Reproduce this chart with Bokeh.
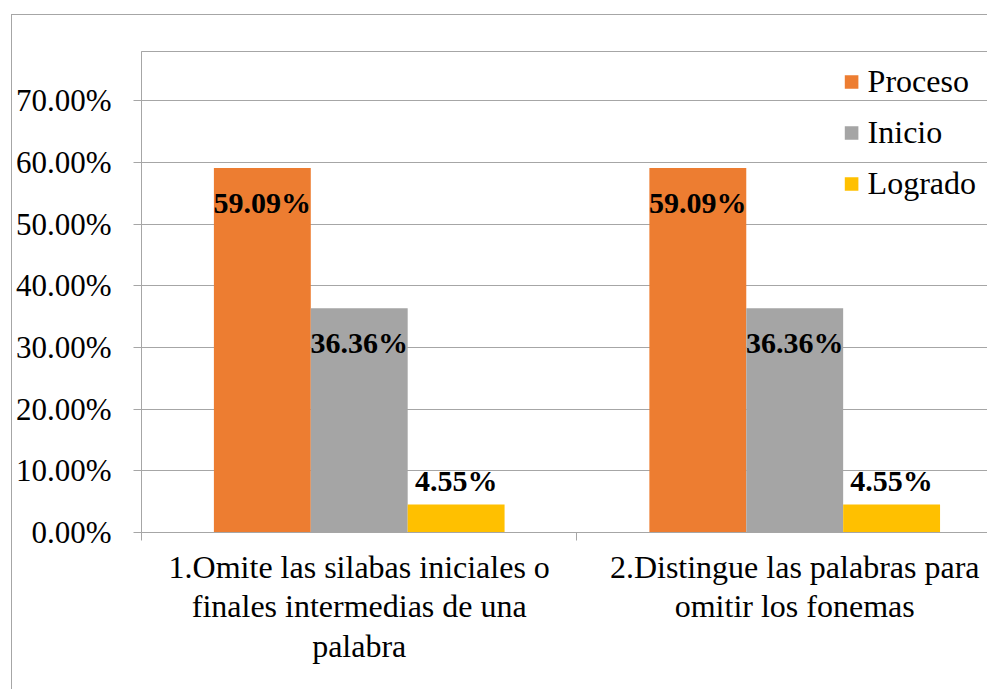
from bokeh.plotting import figure
from bokeh.models import (Range1d, FixedTicker, NumeralTickFormatter, ColumnDataSource,
                          Legend, LegendItem)
from bokeh.embed import file_html
from bokeh.resources import INLINE
from bokeh.core.properties import value

# ---- data ----
categories = ["1.Omite las silabas iniciales o\nfinales intermedias de una\npalabra",
              "2.Distingue las palabras para\nomitir los fonemas"]
series_names = ["Proceso", "Inicio", "Logrado"]
proceso = [0.5909, 0.5909]
inicio = [0.3636, 0.3636]
logrado = [0.0455, 0.0455]
y_ticks = [0.0, 0.1, 0.2, 0.3, 0.4, 0.5, 0.6, 0.7]

colors = ["#ED7D31", "#A5A5A5", "#FFC000"]
FONT = "Liberation Serif"
GRID = "#A6A6A6"

series = [proceso, inicio, logrado]
centers = [i + 0.5 for i in range(len(categories))]
bar_w = 0.2225
offsets = [-bar_w, 0.0, bar_w]
label_offsets = [34, 34, -24]

p = figure(width=976, height=675, output_backend="svg", toolbar_location=None,
           x_range=Range1d(0, 1.945), y_range=Range1d(0, 0.78),
           min_border_left=128, min_border_top=36, min_border_bottom=158,
           min_border_right=0,
           styles={"border-top": "1px solid #A6A6A6", "border-left": "1px solid #A6A6A6",
                   "margin-left": "11px", "margin-top": "14px"})

p.outline_line_color = GRID
p.outline_line_width = 1
p.background_fill_color = "white"
p.border_fill_color = "white"

# grid
p.xgrid.grid_line_color = None
p.ygrid.grid_line_color = GRID
p.ygrid.grid_line_width = 1.2

# y axis
p.yaxis.ticker = FixedTicker(ticks=y_ticks)
p.yaxis.formatter = NumeralTickFormatter(format="0.00%")
p.yaxis.major_label_text_font = FONT
p.yaxis.major_label_text_font_size = "31px"
p.yaxis.major_label_text_color = "black"
p.yaxis.major_label_standoff = 22
p.yaxis.major_tick_out = 8
p.yaxis.major_tick_in = 0
p.yaxis.minor_tick_line_color = None
p.yaxis.axis_line_color = GRID
p.yaxis.major_tick_line_color = GRID

# x axis
p.xaxis.ticker = FixedTicker(ticks=centers, minor_ticks=[0, 1, 2])
p.xaxis.major_label_overrides = {c: lab for c, lab in zip(centers, categories)}
p.xaxis.major_label_text_font = FONT
p.xaxis.major_label_text_font_size = "32px"
p.xaxis.major_label_text_color = "black"
p.xaxis.major_label_text_line_height = 1.1
p.xaxis.major_tick_line_color = None
p.xaxis.major_tick_out = 0
p.xaxis.major_tick_in = 0
p.xaxis.minor_tick_out = 8
p.xaxis.minor_tick_in = 0
p.xaxis.minor_tick_line_color = GRID
p.xaxis.major_label_standoff = 8
p.xaxis.axis_line_color = GRID

items = []
for name, vals, col, off, loff in zip(series_names, series, colors, offsets, label_offsets):
    src = ColumnDataSource(dict(
        x=[c + off for c in centers],
        top=vals,
        lab=["{:.2f}%".format(v * 100) for v in vals],
    ))
    r = p.vbar(x="x", top="top", width=bar_w, bottom=0, source=src,
               fill_color=col, line_color=None)
    p.text(x="x", y="top", text="lab", source=src, y_offset=loff,
           text_align="center", text_baseline="middle",
           text_font=value(FONT), text_font_style="bold", text_font_size="30px",
           text_color="black")
    items.append(LegendItem(label=name, renderers=[r]))

legend = Legend(items=items, location="top_right")
legend.label_text_font = FONT
legend.label_text_font_size = "32px"
legend.label_text_color = "black"
legend.glyph_width = 17
legend.glyph_height = 17
legend.label_standoff = 8
legend.spacing = 14
legend.padding = 3
legend.margin = 12
legend.border_line_color = None
legend.background_fill_alpha = 0
p.add_layout(legend)

open("out.html", "w").write(file_html(p, INLINE))
